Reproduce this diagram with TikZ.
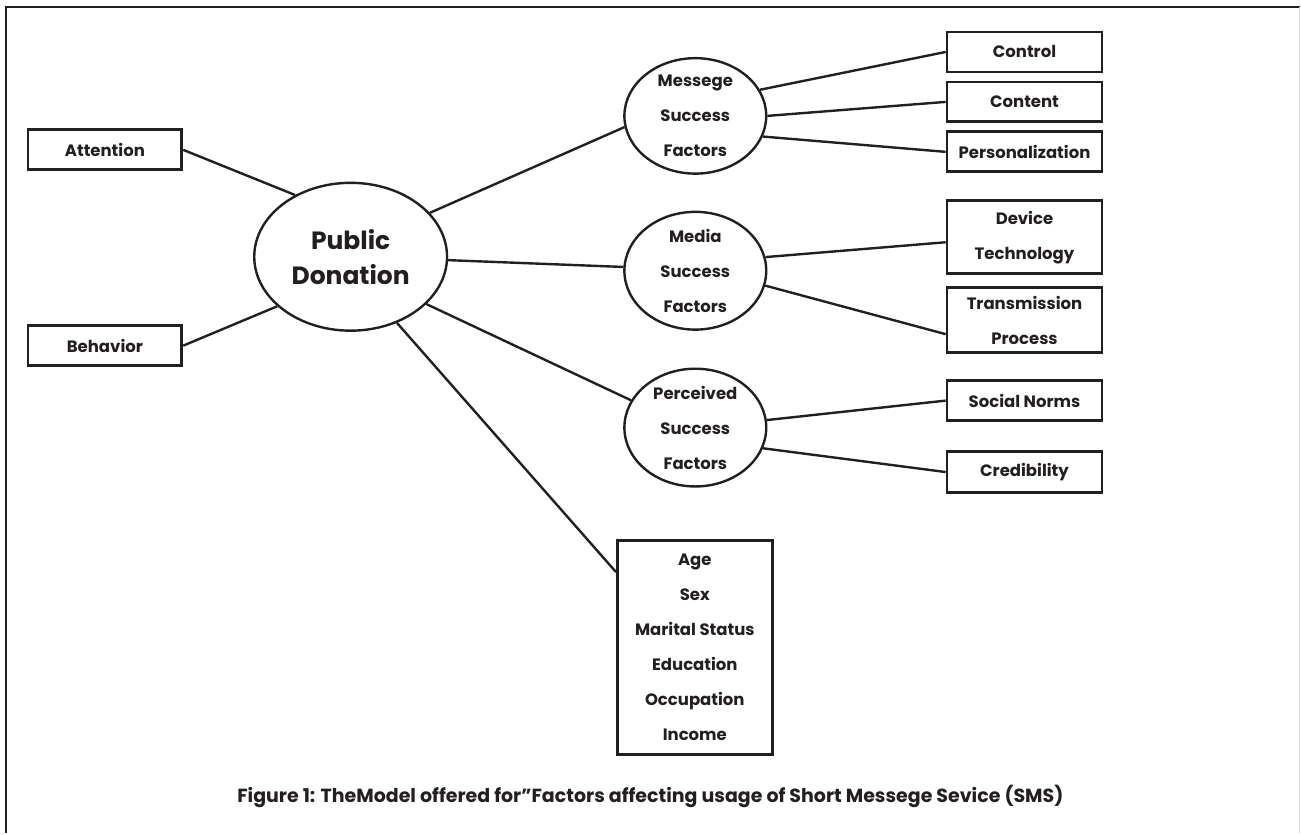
\documentclass[tikz,border=0pt]{standalone}
\usepackage{fontspec}
\setmainfont{Poppins}
\usetikzlibrary{shapes.geometric, positioning}
\definecolor{ink}  {HTML}{231F20}
\definecolor{frame}{HTML}{D6D6D6}

\begin{document}
\begin{tikzpicture}[x=1pt, y=-1pt,
    every node/.style={text=ink, font=\bfseries\fontsize{16.5}{35}\selectfont},
    factor/.style={draw=ink, line width=2.8pt, minimum width=155pt,
      minimum height=40pt, inner sep=0pt, align=center},
    bubble/.style={draw=ink, line width=2.4pt, ellipse, minimum width=142pt,
      minimum height=113pt, inner sep=0pt, align=center},
    link/.style={draw=ink, line width=2.4pt}]

    % centre node and its left side
    \node[bubble, minimum width=193pt, minimum height=148pt,
      font=\bfseries\fontsize{25}{35}\selectfont] (pd) at (351,257) {Public\\Donation};
    \node[factor, minimum width=154pt] (att) at (105,150) {Attention};
    \node[factor, minimum width=154pt] (beh) at (105,346) {Behavior};

    % the three groups of success factors
    \foreach \nm/\y/\txt in {msg/116/Messege, med/271/Media, per/428/Perceived}
      {\node[bubble] (\nm) at (696,\y) {\txt\\Success\\Factors};}

    \foreach \nm/\y/\h/\txt in {%
      ctl/52/40/Control,
      cnt/102/40/Content,
      pers/152/40/Personalization,
      dev/237.5/73/{Device\\Technology},
      trn/320.5/65/{Transmission\\Process},
      soc/401/40/Social Norms,
      cred/472.5/41/Credibility}
      {\node[factor, minimum height=\h pt] (\nm) at (1025.5,\y) {\txt};}

    \node[factor, minimum height=214pt] (demo) at (695.5,648)
      {Age\\Sex\\Marital Status\\Education\\Occupation\\Income};

    \draw[link] (att.east) -- (pd.132);
    \draw[link] (beh.east) -- (pd.214);
    \draw[link] (pd.29) -- (msg.189);
    \draw[link] (pd.-2) -- (med.177);
    \draw[link] (pd.-32) -- (per.157);
    \draw[link] (pd.-55) -- ([yshift=-33pt]demo.north west);

    \draw[link] (msg.22) -- (ctl.west);
    \draw[link] (msg.0) -- (cnt.west);
    \draw[link] (msg.-17) -- (pers.west);
    \draw[link] (med.11) -- ([yshift=-5pt]dev.west);
    \draw[link] (med.-12) -- ([yshift=-14pt]trn.west);
    \draw[link] (per.6) -- (soc.west);
    \draw[link] (per.-17) -- (cred.west);

    \node[font=\bfseries\fontsize{19}{21}\selectfont] (cap) at (651,797)
      {Figure 1: TheModel offered for”Factors affecting usage of Short Messege Sevice (SMS)};

    % open frame, left and top only
    \draw[ink, line width=2.6pt] (6,834) -- (6,7) -- (1301,7);
    \draw[frame, line width=1pt] (1300.5,7) -- (1300.5,834);
    \useasboundingbox (0,0) rectangle (1301,834);
\end{tikzpicture}
\end{document}
